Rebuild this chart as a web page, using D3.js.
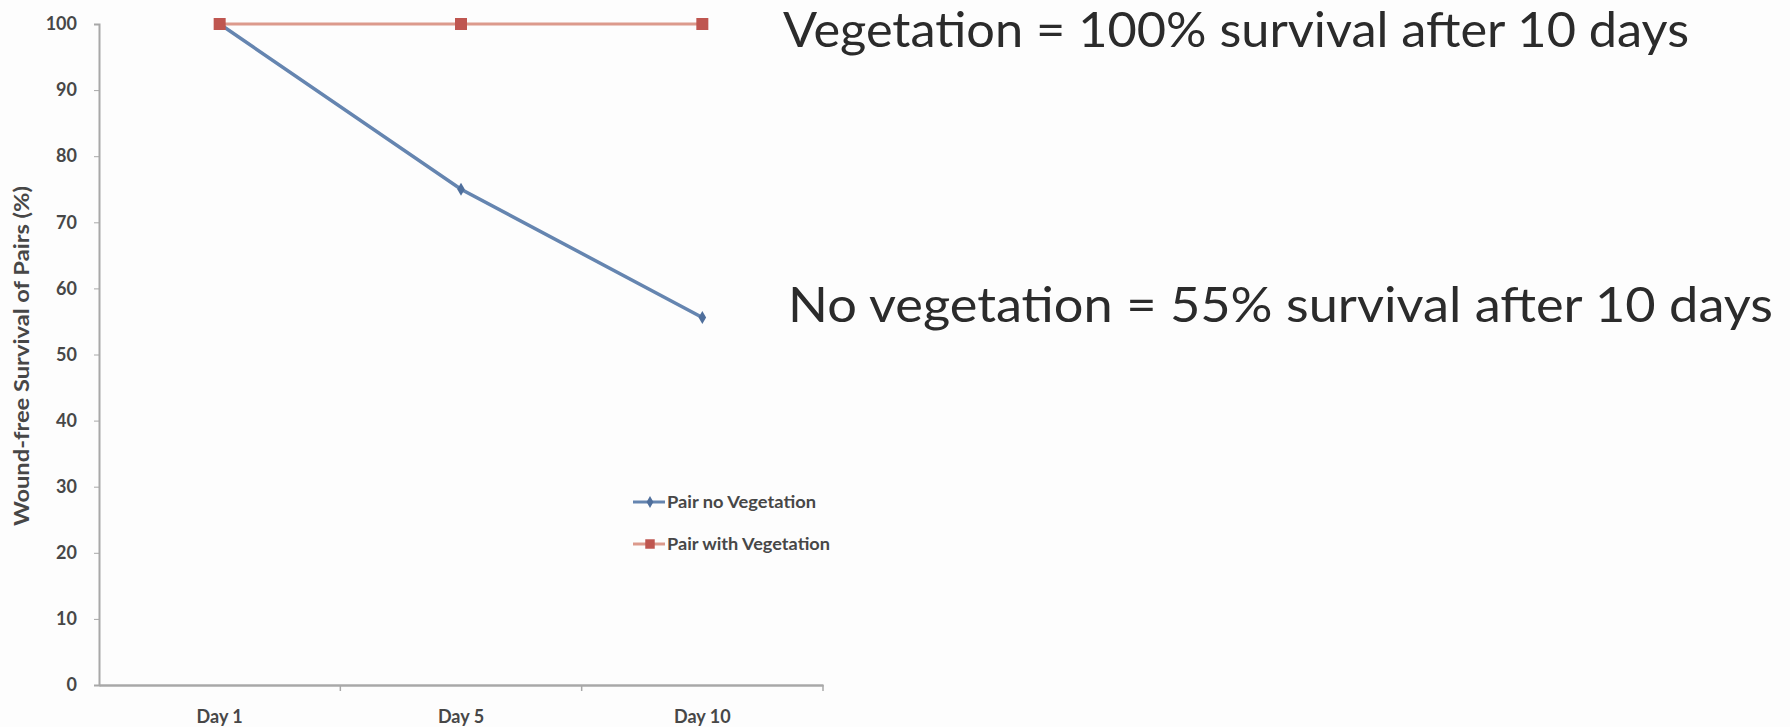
<!DOCTYPE html>
<html>
<head>
<meta charset="utf-8">
<script src="https://cdn.jsdelivr.net/npm/d3@7"></script>
<style>
  body { margin: 0; background: #fdfdfd; }
  text { font-family: Lato, "Open Sans", sans-serif; }
</style>
</head>
<body>
<div id="canvas"></div>
<script>
/* Data */
const DAYS = ["Day 1", "Day 5", "Day 10"]
const NO_VEGETATION = [100, 75, 55.6]
const WITH_VEGETATION = [100, 100, 100]
const Y_TICKS = [0, 10, 20, 30, 40, 50, 60, 70, 80, 90, 100]
const SERIES_NAMES = ["Pair no Vegetation", "Pair with Vegetation"]
const NOTES = ["Vegetation = 100% survival after 10 days", "No vegetation = 55% survival after 10 days"]

/* Global constants */
const WIDTH = 1790
const HEIGHT = 727
const PLOT = {"LEFT": 99, "RIGHT": 823, "TOP": 24, "BOTTOM": 685}
const COLORS = {"BLUE": "#6585b0", "BLUE_MARK": "#4f6f9c", "RED": "#dc9a8c", "RED_MARK": "#bf5650", "AXIS": "#a8a8a8", "LABEL": "#474747"}
const NOTE_POS = [{"x": 783, "y": 47, "len": 906}, {"x": 788, "y": 322, "len": 985}]

const canvas = d3.select("#canvas")
                 .append("svg")
                 .attr("width", WIDTH)
                 .attr("height", HEIGHT);

const xScale = d3.scaleBand()
                 .domain(DAYS)
                 .range([PLOT.LEFT, PLOT.RIGHT])
                 .padding(0);
const yScale = d3.scaleLinear()
                 .domain([0, 100])
                 .range([PLOT.BOTTOM, PLOT.TOP]);
const xMid = (d) => xScale(d) + xScale.bandwidth() / 2;

/* Axes */
const yAxis = d3.axisLeft(yScale).tickValues(Y_TICKS).tickSize(5).tickPadding(17);
canvas.append("g")
      .attr("transform", "translate(" + PLOT.LEFT + ",0)")
      .call(yAxis)
      .call((g) => g.select(".domain").attr("stroke", COLORS.AXIS).attr("stroke-width", 2))
      .call((g) => g.selectAll(".tick line").attr("stroke", COLORS.AXIS))
      .call((g) => g.selectAll(".tick text")
                    .attr("fill", COLORS.LABEL)
                    .style("font-size", "18px")
                    .style("font-weight", "bold"));

// category axis with ticks on the boundaries, labels centred
const xAxis = d3.axisBottom(xScale).tickSize(0).tickPadding(25);
canvas.append("g")
      .attr("transform", "translate(0," + PLOT.BOTTOM + ")")
      .call(xAxis)
      .call((g) => g.select(".domain").attr("stroke", COLORS.AXIS).attr("stroke-width", 2.5))
      .call((g) => g.selectAll(".tick text")
                    .attr("fill", COLORS.LABEL)
                    .style("font-size", "18px")
                    .style("font-weight", "bold"));
canvas.append("g")
      .selectAll("line")
      .data(DAYS.slice(1).concat(["end"]))
      .enter()
      .append("line")
      .attr("x1", (d, i) => i < DAYS.length - 1 ? xScale(d) : PLOT.RIGHT)
      .attr("x2", (d, i) => i < DAYS.length - 1 ? xScale(d) : PLOT.RIGHT)
      .attr("y1", PLOT.BOTTOM)
      .attr("y2", PLOT.BOTTOM + 6)
      .attr("stroke", COLORS.AXIS)
      .attr("stroke-width", 1.5);

canvas.append("text")
      .attr("transform", "translate(24,356) rotate(-90)")
      .attr("text-anchor", "middle")
      .attr("dominant-baseline", "middle")
      .attr("textLength", 340)
      .attr("lengthAdjust", "spacingAndGlyphs")
      .attr("fill", COLORS.LABEL)
      .style("font-size", "20px")
      .style("font-weight", "bold")
      .text("Wound-free Survival of Pairs (%)");

/* Lines */
const line = d3.line()
               .x((d, i) => xMid(DAYS[i]))
               .y((d) => yScale(d));

canvas.append("path")
      .datum(WITH_VEGETATION)
      .attr("fill", "none")
      .attr("stroke", COLORS.RED)
      .attr("stroke-width", 3)
      .attr("d", line);
canvas.append("path")
      .datum(NO_VEGETATION)
      .attr("fill", "none")
      .attr("stroke", COLORS.BLUE)
      .attr("stroke-width", 3.5)
      .attr("d", line);

canvas.append("g")
      .selectAll("rect")
      .data(WITH_VEGETATION)
      .enter()
      .append("rect")
      .attr("x", (d, i) => xMid(DAYS[i]) - 6)
      .attr("y", (d) => yScale(d) - 6)
      .attr("width", 12)
      .attr("height", 12)
      .attr("fill", COLORS.RED_MARK);
canvas.append("g")
      .selectAll("path")
      .data(NO_VEGETATION.slice(1))
      .enter()
      .append("path")
      .attr("transform", (d, i) => "translate(" + xMid(DAYS[i + 1]) + "," + yScale(d) + ")")
      .attr("d", d3.symbol(d3.symbolDiamond, 50))
      .attr("fill", COLORS.BLUE_MARK);

/* Legend */
const legend = canvas.append("g")
                     .attr("transform", "translate(633,502)");
const legendItems = legend.selectAll("g")
                          .data(SERIES_NAMES)
                          .enter()
                          .append("g")
                          .attr("transform", (d, i) => "translate(0," + i * 42 + ")");
legendItems.append("line")
           .attr("x1", 0)
           .attr("x2", 32)
           .attr("stroke", (d, i) => i === 0 ? COLORS.BLUE : COLORS.RED)
           .attr("stroke-width", 3);
legendItems.append("path")
           .attr("transform", "translate(17,0)")
           .attr("d", (d, i) => i === 0 ? d3.symbol(d3.symbolDiamond, 40)() : d3.symbol(d3.symbolSquare, 90)())
           .attr("fill", (d, i) => i === 0 ? COLORS.BLUE_MARK : COLORS.RED_MARK);
legendItems.append("text")
           .attr("x", 34)
           .attr("dy", "0.35em")
           .attr("textLength", (d, i) => i === 0 ? 149 : 163)
           .attr("lengthAdjust", "spacingAndGlyphs")
           .attr("fill", COLORS.LABEL)
           .style("font-size", "17px")
           .style("font-weight", "bold")
           .text((d) => d);

/* Annotations */
canvas.selectAll("text.note")
      .data(NOTES)
      .enter()
      .append("text")
      .attr("class", "note")
      .attr("x", (d, i) => NOTE_POS[i].x)
      .attr("y", (d, i) => NOTE_POS[i].y)
      .attr("textLength", (d, i) => NOTE_POS[i].len)
      .attr("lengthAdjust", "spacingAndGlyphs")
      .attr("fill", "#2b2b2b")
      .style("font-size", "48px")
      .text((d) => d);
</script>
</body>
</html>
